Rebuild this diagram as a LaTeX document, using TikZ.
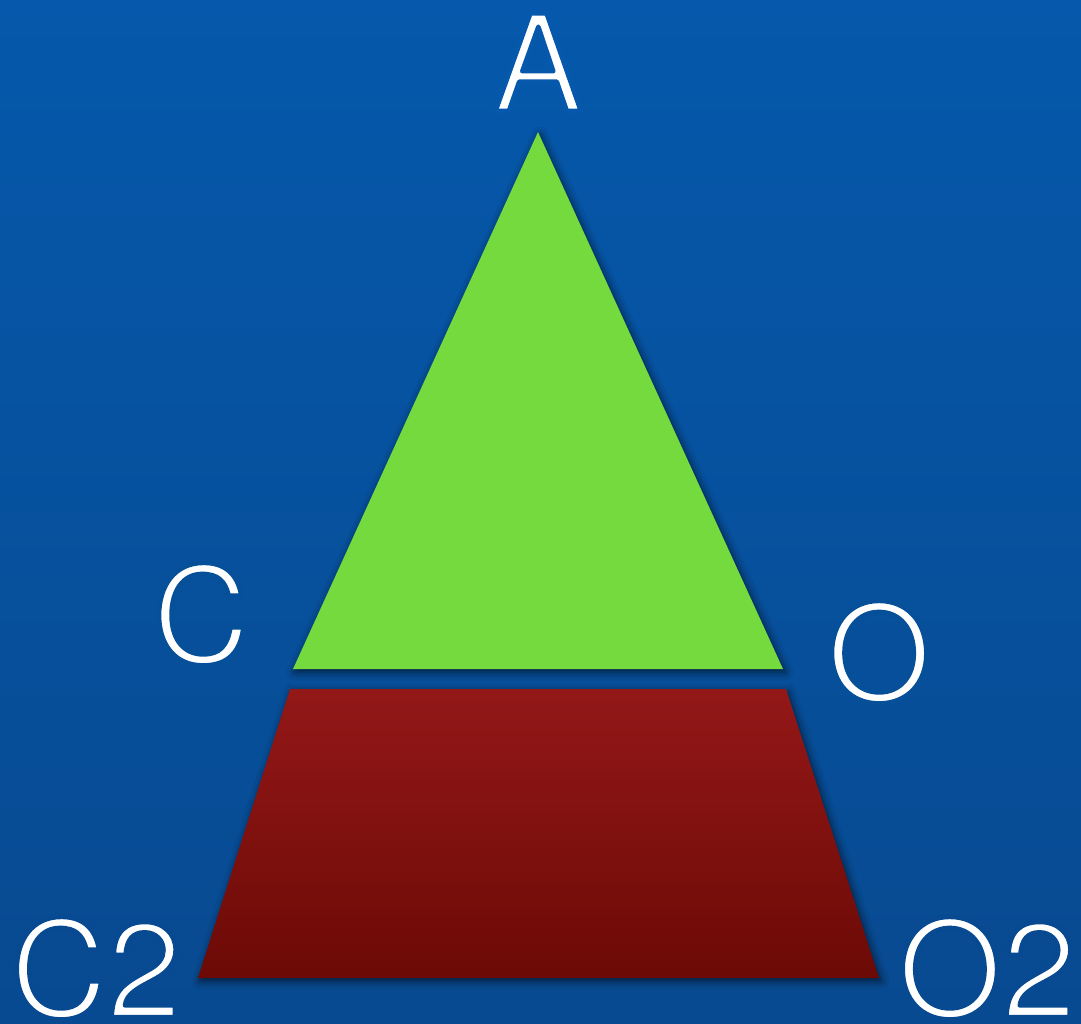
\documentclass[tikz,border=0pt]{standalone}
\usepackage{fontspec}
\setmainfont{TeX Gyre Heros}
\usetikzlibrary{shadows.blur}
\definecolor{bgtop}{HTML}{0558AB}
\definecolor{bgbot}{HTML}{084A91}
\definecolor{greenfill}{HTML}{74DA3E}
\definecolor{redtop}{HTML}{931818}
\definecolor{redbot}{HTML}{6C0A05}
% thin the glyphs: fill white, stroke with the local background colour
\newcommand{\thintext}[2]{\special{pdf:literal direct 2 Tr 1 j #1 RG 4.5 w}#2\special{pdf:literal direct 0 Tr 1 w}}
\tikzset{
  lbl/.style={text=white, font=\fontsize{134}{134}\selectfont, inner sep=0pt, anchor=base},
  shd/.style={blur shadow={shadow xshift=2pt, shadow yshift=-3pt, shadow blur radius=8pt, shadow opacity=65}}
}
\begin{document}
\begin{tikzpicture}[x=1pt,y=-1pt]
\shade[top color=bgtop, bottom color=bgbot] (0,0) rectangle (1081,1023);
\useasboundingbox (0,0) rectangle (1081,1023);
\coordinate (apex) at (538,132);
\coordinate (bl) at (293,669);
\coordinate (br) at (783,669);
\coordinate (tl) at (290,689);
\coordinate (tr) at (786,689);
\coordinate (ll) at (198,978);
\coordinate (lr) at (879,978);
\fill[greenfill, shd] (apex) -- (br) -- (bl) -- cycle;
\shade[top color=redtop, bottom color=redbot, shd] (tl) -- (tr) -- (lr) -- (ll) -- cycle;
\node[lbl] (A) at (538,111) {\thintext{0.02 0.345 0.67}{A}};
\node[lbl] (C) at (201,663) {\thintext{0.025 0.31 0.60}{C}};
\node[lbl] (O) at (879,701) {\thintext{0.025 0.31 0.60}{O}};
\node[lbl] (C2) at (96,1017) {\thintext{0.03 0.29 0.57}{C2}};
\node[lbl] (O2) at (987,1017) {\thintext{0.03 0.29 0.57}{O2}};
\end{tikzpicture}
\end{document}
